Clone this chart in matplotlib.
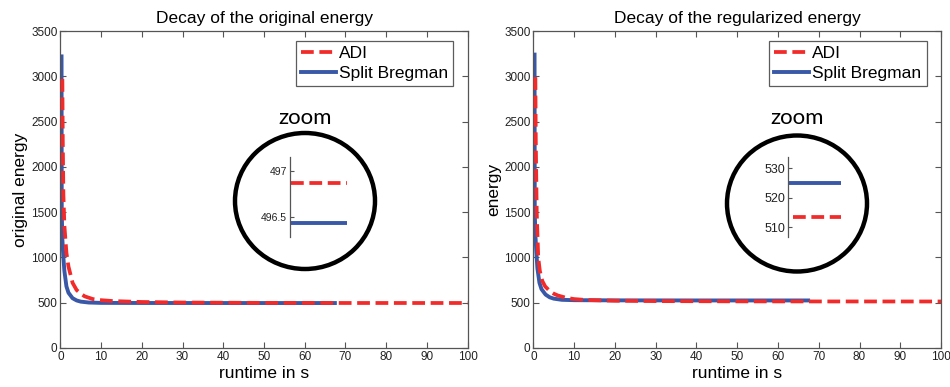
import matplotlib
matplotlib.use("Agg")
import matplotlib.pyplot as plt
from matplotlib.patches import Ellipse

# ---------------- data ----------------
adi_t_orig = [0.5, 0.6, 0.75, 1.0, 1.5, 2.0, 3.0, 4.0, 5.0, 6.0, 8.0, 10, 13, 20, 30, 50, 70, 100]
adi_e_orig = [2970, 2300, 1700, 1350, 1050, 900, 720, 640, 600, 570, 540, 528, 518, 508, 502, 498, 497, 496.9]
sb_t_orig = [0.3, 0.35, 0.5, 0.75, 1.0, 1.5, 2.0, 3.0, 4.0, 5.0, 7.0, 10, 20, 40, 67.4]
sb_e_orig = [3220, 1500, 1200, 1000, 850, 680, 610, 550, 525, 512, 502, 498, 497, 496.5, 496.4]

adi_t_reg = [0.5, 0.6, 0.83, 1.2, 1.6, 2.2, 2.9, 4.0, 5.0, 6.0, 8.0, 10, 13, 20, 30, 50, 70, 100]
adi_e_reg = [2990, 2300, 1500, 1000, 850, 740, 680, 630, 600, 580, 555, 540, 530, 522, 518, 515, 514, 513.5]
sb_t_reg = [0.3, 0.35, 0.5, 0.75, 1.0, 1.5, 2.0, 3.0, 4.0, 5.0, 7.0, 10, 20, 40, 67.4]
sb_e_reg = [3240, 1500, 1250, 1050, 880, 720, 650, 590, 560, 545, 532, 528, 526, 525, 524.9]

zoom_orig_adi = 496.87
zoom_orig_sb = 496.435
zoom_reg_adi = 513.5
zoom_reg_sb = 524.9

titles = ["Decay of the original energy", "Decay of the regularized energy"]
ylabels = ["original energy", "energy"]
xticks = list(range(0, 101, 10))
yticks = list(range(0, 3501, 500))

RED = "#f22a2a"
BLUE = "#3a58a8"
SPINE = "#555555"
DASH = (0, (3.4, 1.5))

plt.rcParams['font.family'] = ['Liberation Sans', 'DejaVu Sans']

fig = plt.figure(figsize=(9.5, 3.87), dpi=100)

def style_main(ax):
    ax.set_xlim(0, 100)
    ax.set_ylim(0, 3500)
    ax.set_xticks(xticks)
    ax.set_yticks(yticks)
    ax.tick_params(direction='in', top=True, right=True, labelsize=8.5,
                   length=4, width=0.8, color=SPINE, labelcolor='#222222', pad=2)
    for s in ax.spines.values():
        s.set_color(SPINE)
        s.set_linewidth(0.9)

positions = [[0.0635, 0.1008, 0.4288, 0.819], [0.5614, 0.1008, 0.4292, 0.819]]
data = [(adi_t_orig, adi_e_orig, sb_t_orig, sb_e_orig),
        (adi_t_reg, adi_e_reg, sb_t_reg, sb_e_reg)]

axes = []
for i in range(2):
    ax = fig.add_axes(positions[i])
    at, ae, st, se = data[i]
    ax.plot(at, ae, color=RED, lw=2.7, ls=DASH, label="ADI", zorder=3)
    ax.plot(st, se, color=BLUE, lw=2.8, ls='-', label="Split Bregman", zorder=2)
    style_main(ax)
    ax.set_title(titles[i], fontsize=12.5, pad=6)
    ax.set_xlabel("runtime in s", fontsize=12.5, labelpad=2)
    ax.set_ylabel(ylabels[i], fontsize=12.5, labelpad=2)
    handles, labels = ax.get_legend_handles_labels()
    leg = ax.legend(handles, labels, loc='upper right', fontsize=12.5, frameon=True,
                    fancybox=False, edgecolor='#333333', handlelength=2.0,
                    handletextpad=0.2, borderpad=0.3, labelspacing=0.3,
                    bbox_to_anchor=(0.965, 0.97), borderaxespad=0)
    leg.get_frame().set_linewidth(0.9)
    axes.append(ax)

W, H = 950.0, 387.0

def add_zoom(cx, cy, inset_left, inset_right_px, red_start, vals, ylim, ticks, ticklabels, labelsize):
    e = Ellipse((cx / W, 1 - cy / H), 140 / W, 136 / H, transform=fig.transFigure,
                fill=False, lw=3.2, edgecolor='black', zorder=10)
    fig.add_artist(e)
    fig.text(cx / W, 1 - 118 / H, "zoom", family=['Lato', 'DejaVu Sans'], fontsize=16,
             ha='center', va='center')
    iax = fig.add_axes([inset_left / W, 1 - 237 / H, (inset_right_px - inset_left) / W, 80 / H])
    iax.patch.set_alpha(0)
    for k in ['top', 'right', 'bottom']:
        iax.spines[k].set_visible(False)
    iax.spines['left'].set_color('#555555')
    iax.spines['left'].set_linewidth(0.9)
    iax.set_xlim(0, 1)
    iax.set_ylim(*ylim)
    iax.set_xticks([])
    iax.set_yticks(ticks)
    iax.set_yticklabels(ticklabels)
    iax.tick_params(axis='y', direction='in', length=3, width=0.8, color='#555555',
                    labelsize=labelsize, labelcolor='#222222', pad=2)
    adi_v, sb_v = vals
    iax.plot([red_start, 1], [adi_v, adi_v], color=RED, lw=2.7, ls=DASH)
    iax.plot([0, 1], [sb_v, sb_v], color=BLUE, lw=2.8)

add_zoom(305, 201, 290, 347, 0.02, (zoom_orig_adi, zoom_orig_sb),
         (496.28, 497.15), [496.5, 497], ["496.5", "497"], 7.5)
add_zoom(797, 203.5, 788, 841, 0.1, (zoom_reg_adi, zoom_reg_sb),
         (506.6, 533.8), [510, 520, 530], ["510", "520", "530"], 9)

fig.savefig("out.png", dpi=100)
